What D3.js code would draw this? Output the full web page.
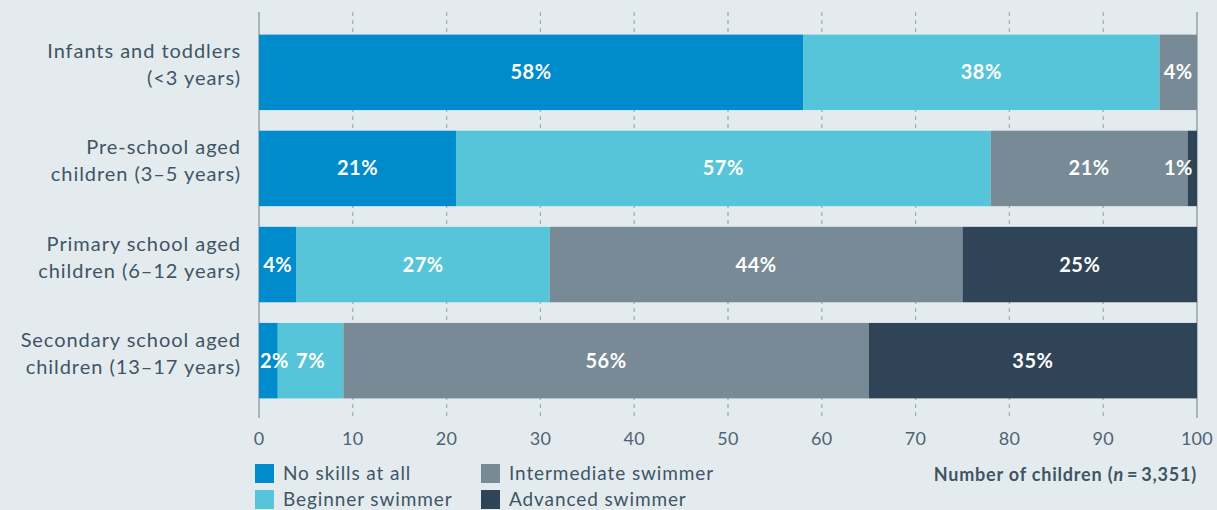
<!DOCTYPE html>
<html>
<head>
<meta charset="utf-8">
<script src="https://cdn.jsdelivr.net/npm/d3@7"></script>
<style>
  html, body { margin: 0; padding: 0; background: #e4ebee; }
  svg { display: block; font-family: Lato, "Open Sans", sans-serif; }
</style>
</head>
<body>
<svg id="chart" width="1217" height="510"></svg>
<script>
"use strict";

// data
const groups = [
  ["Infants and toddlers", "(<3 years)"],
  ["Pre-school aged", "children (3\u20135 years)"],
  ["Primary school aged", "children (6\u201312 years)"],
  ["Secondary school aged", "children (13\u201317 years)"]
];
const skillLevels = ["No skills at all", "Beginner swimmer", "Intermediate swimmer", "Advanced swimmer"];
const noSkills     = [58, 21, 4, 2];
const beginner     = [38, 57, 27, 7];
const intermediate = [4, 21, 44, 56];
const advanced     = [0, 1, 25, 35];
const xTicks = [0, 10, 20, 30, 40, 50, 60, 70, 80, 90, 100];

const colours = ["#008bcd", "#56c5d9", "#778a96", "#2f4557"];
const textColour = "#3f5566";

let svg = d3.select("svg#chart");
let dim = { left: 259, right: 1197, top: 12, bottom: 418 };

let x = d3.scaleLinear().domain([0, 100]).range([dim.left, dim.right]);
let y = d3.scaleBand().domain(d3.range(groups.length))
          .range([25, 408]).paddingInner(0.215).paddingOuter(0.1);

let table = groups.map((g, i) => ({
  idx: i,
  values: [noSkills[i], beginner[i], intermediate[i], advanced[i]]
}));
let stack = d3.stack().keys([0, 1, 2, 3]).value((d, k) => d.values[k]);
let series = stack(table);

/* gridlines */
svg.append("g")
   .selectAll("line")
   .data(xTicks)
   .join("line")
   .attr("x1", d => x(d)).attr("x2", d => x(d))
   .attr("y1", dim.top).attr("y2", dim.bottom)
   .attr("stroke", d => (d === 0 || d === 100) ? "#a9b5bd" : "#a3adb5")
   .attr("stroke-width", d => (d === 0 || d === 100) ? 2 : 1.3)
   .attr("stroke-dasharray", d => (d === 0 || d === 100) ? null : "4,4");

/* bars */
series.forEach((s, k) => {
  svg.append("g")
     .attr("fill", colours[k])
     .selectAll("rect")
     .data(s.filter(d => d[1] > d[0]))
     .join("rect")
     .attr("x", d => x(d[0]))
     .attr("y", d => y(d.data.idx))
     .attr("width", d => x(d[1]) - x(d[0]))
     .attr("height", y.bandwidth());
});

/* value labels */
series.forEach((s, k) => {
  s.filter(d => d[1] > d[0]).forEach(d => {
    let t = svg.append("text")
      .attr("fill", "#fff")
      .attr("font-weight", 700)
      .attr("font-size", "20px")
      .attr("letter-spacing", "0.5px")
      .attr("text-anchor", "middle")
      .attr("y", y(d.data.idx) + y.bandwidth() / 2 + 7)
      .text(`${d[1] - d[0]}%`);
    let w = t.node().getComputedTextLength();
    let cx = (x(d[0]) + x(d[1])) / 2;
    cx = Math.max(cx, dim.left + w / 2 + 1);
    cx = Math.min(cx, dim.right - w / 2 - 4);
    t.attr("x", cx);
  });
});

/* category labels */
groups.forEach((g, i) => {
  let t = svg.append("text")
     .attr("fill", textColour)
     .attr("font-size", "20px")
     .attr("letter-spacing", "0.95px")
     .attr("text-anchor", "end")
     .attr("x", 241)
     .attr("y", y(i) + y.bandwidth() / 2 - 14);
  g.forEach((line, j) => {
    t.append("tspan").attr("x", 241).attr("dy", j === 0 ? 0 : 27).text(line);
  });
});

/* x axis tick labels */
svg.append("g")
   .selectAll("text")
   .data(xTicks)
   .join("text")
   .attr("fill", "#4e6373")
   .attr("font-size", "18px")
   .attr("letter-spacing", "0.3px")
   .attr("text-anchor", "middle")
   .attr("x", d => x(d))
   .attr("y", 445)
   .text(d => d);

/* axis title */
let title = svg.append("text")
   .attr("fill", textColour)
   .attr("font-size", "18px")
   .attr("font-weight", 700)
   .attr("letter-spacing", "0.8px")
   .attr("text-anchor", "end")
   .attr("x", dim.right)
   .attr("y", 481);
title.append("tspan").text("Number of children (");
title.append("tspan").attr("font-style", "italic").text("n");
title.append("tspan").text("\u2009=\u20093,351)");

/* legend */
let legendPos = [[255, 464], [255, 490], [481, 464], [481, 490]];
skillLevels.forEach((name, k) => {
  let [lx, ly] = legendPos[k];
  svg.append("rect")
     .attr("x", lx).attr("y", ly)
     .attr("width", 19).attr("height", 19)
     .attr("fill", colours[k]);
  svg.append("text")
     .attr("fill", textColour)
     .attr("font-size", "19px")
     .attr("letter-spacing", "0.9px")
     .attr("x", lx + 28)
     .attr("y", ly + 16)
     .text(name);
});
</script>
</body>
</html>
